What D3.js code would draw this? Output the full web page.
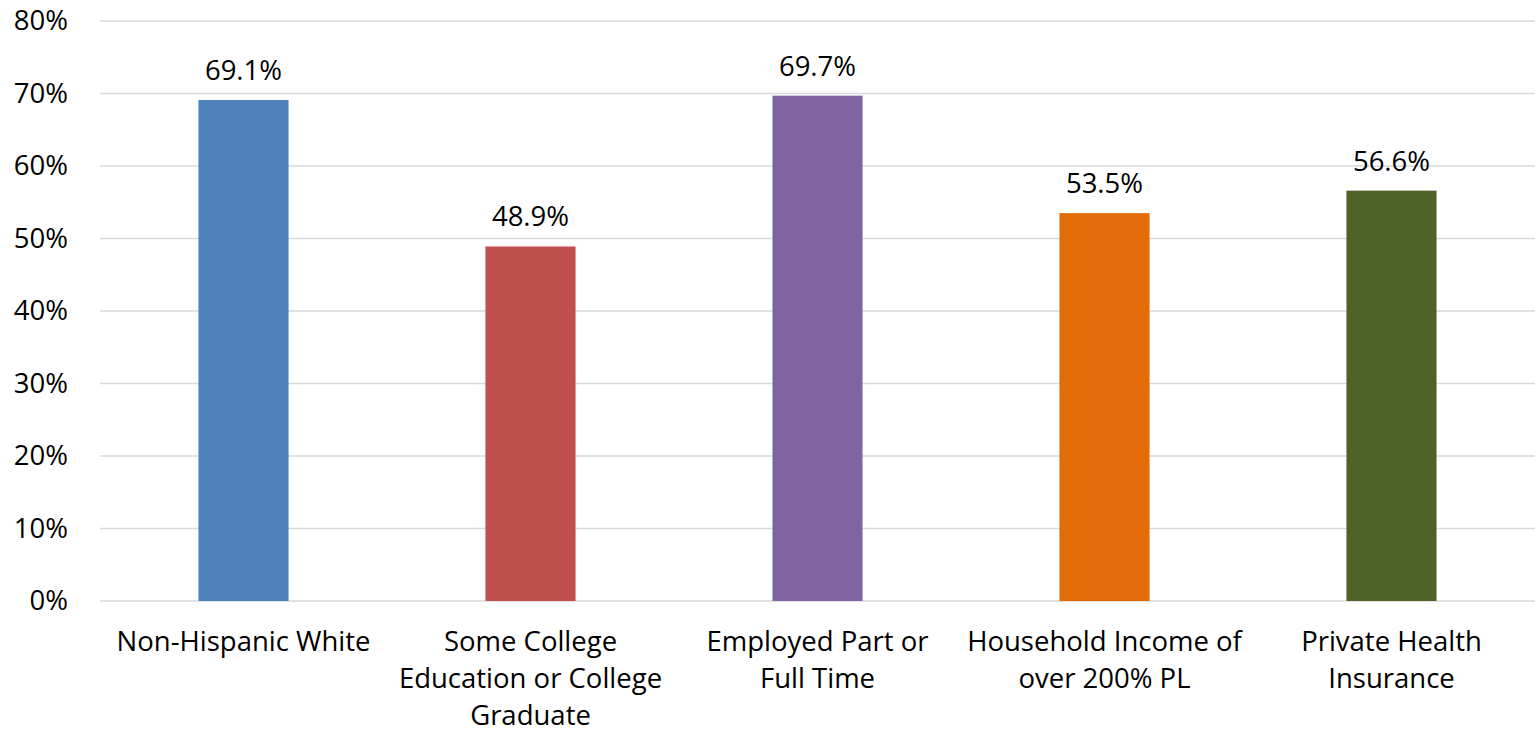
<!DOCTYPE html>
<html>
<head>
<meta charset="utf-8">
<script src="https://cdn.jsdelivr.net/npm/d3@7"></script>
<style>
  html, body { margin: 0; padding: 0; background: #fff; }
  svg { display: block; }
  text { font-family: "Open Sans", sans-serif; fill: #000; }
</style>
</head>
<body>
<svg id="chart" width="1535" height="734"></svg>
<script>
// Share of respondents by characteristic
const categories = [
  "Non-Hispanic White",
  "Some College\nEducation or College\nGraduate",
  "Employed Part or\nFull Time",
  "Household Income of\nover 200% PL",
  "Private Health\nInsurance"
];
const values = [69.1, 48.9, 69.7, 53.5, 56.6];
const colors = ["#4F81BD", "#C0504D", "#8064A2", "#E36C09", "#4F6228"];
const yTicks = [0, 10, 20, 30, 40, 50, 60, 70, 80];

const FONT = "'Open Sans', sans-serif";
const FS = 27.5;

const svg = d3.select("#chart");
const margin = { left: 100, right: 0, top: 21, bottom: 133 };
const W = 1535, H = 734;

const x = d3.scaleBand()
  .domain(categories)
  .range([margin.left, W - margin.right])
  .paddingInner(0.686)
  .paddingOuter(0.343);

const y = d3.scaleLinear()
  .domain([0, 80])
  .range([H - margin.bottom, margin.top]);

// gridlines
svg.append("g")
  .selectAll("line")
  .data(yTicks)
  .join("line")
  .attr("x1", margin.left)
  .attr("x2", W - margin.right)
  .attr("y1", d => y(d))
  .attr("y2", d => y(d))
  .attr("stroke", "#D9D9D9")
  .attr("stroke-width", 1.5);

// y axis labels
const yAxis = d3.axisLeft(y).tickValues(yTicks).tickFormat(d => d + "%").tickSize(0).tickPadding(32);
const gy = svg.append("g").attr("transform", `translate(${margin.left},0)`).call(yAxis);
gy.select(".domain").remove();
gy.selectAll("text").attr("font-size", FS).attr("font-family", FONT).attr("fill", "#000");

// bars
svg.append("g")
  .selectAll("rect")
  .data(values)
  .join("rect")
  .attr("x", (d, i) => x(categories[i]))
  .attr("width", x.bandwidth())
  .attr("y", d => y(d))
  .attr("height", d => y(0) - y(d))
  .attr("fill", (d, i) => colors[i]);

// value labels
svg.append("g")
  .selectAll("text")
  .data(values)
  .join("text")
  .attr("x", (d, i) => x(categories[i]) + x.bandwidth() / 2)
  .attr("y", d => y(d) - 20)
  .attr("text-anchor", "middle")
  .attr("font-size", FS)
  .text(d => d.toFixed(1) + "%");

// category labels
const xl = svg.append("g")
  .selectAll("text")
  .data(categories)
  .join("text")
  .attr("text-anchor", "middle")
  .attr("font-size", FS)
  .attr("transform", d => `translate(${x(d) + x.bandwidth() / 2},${y(0) + 50})`);
xl.selectAll("tspan")
  .data(d => d.split("\n"))
  .join("tspan")
  .attr("x", 0)
  .attr("dy", (d, i) => i === 0 ? 0 : 37)
  .text(d => d);
</script>
</body>
</html>
